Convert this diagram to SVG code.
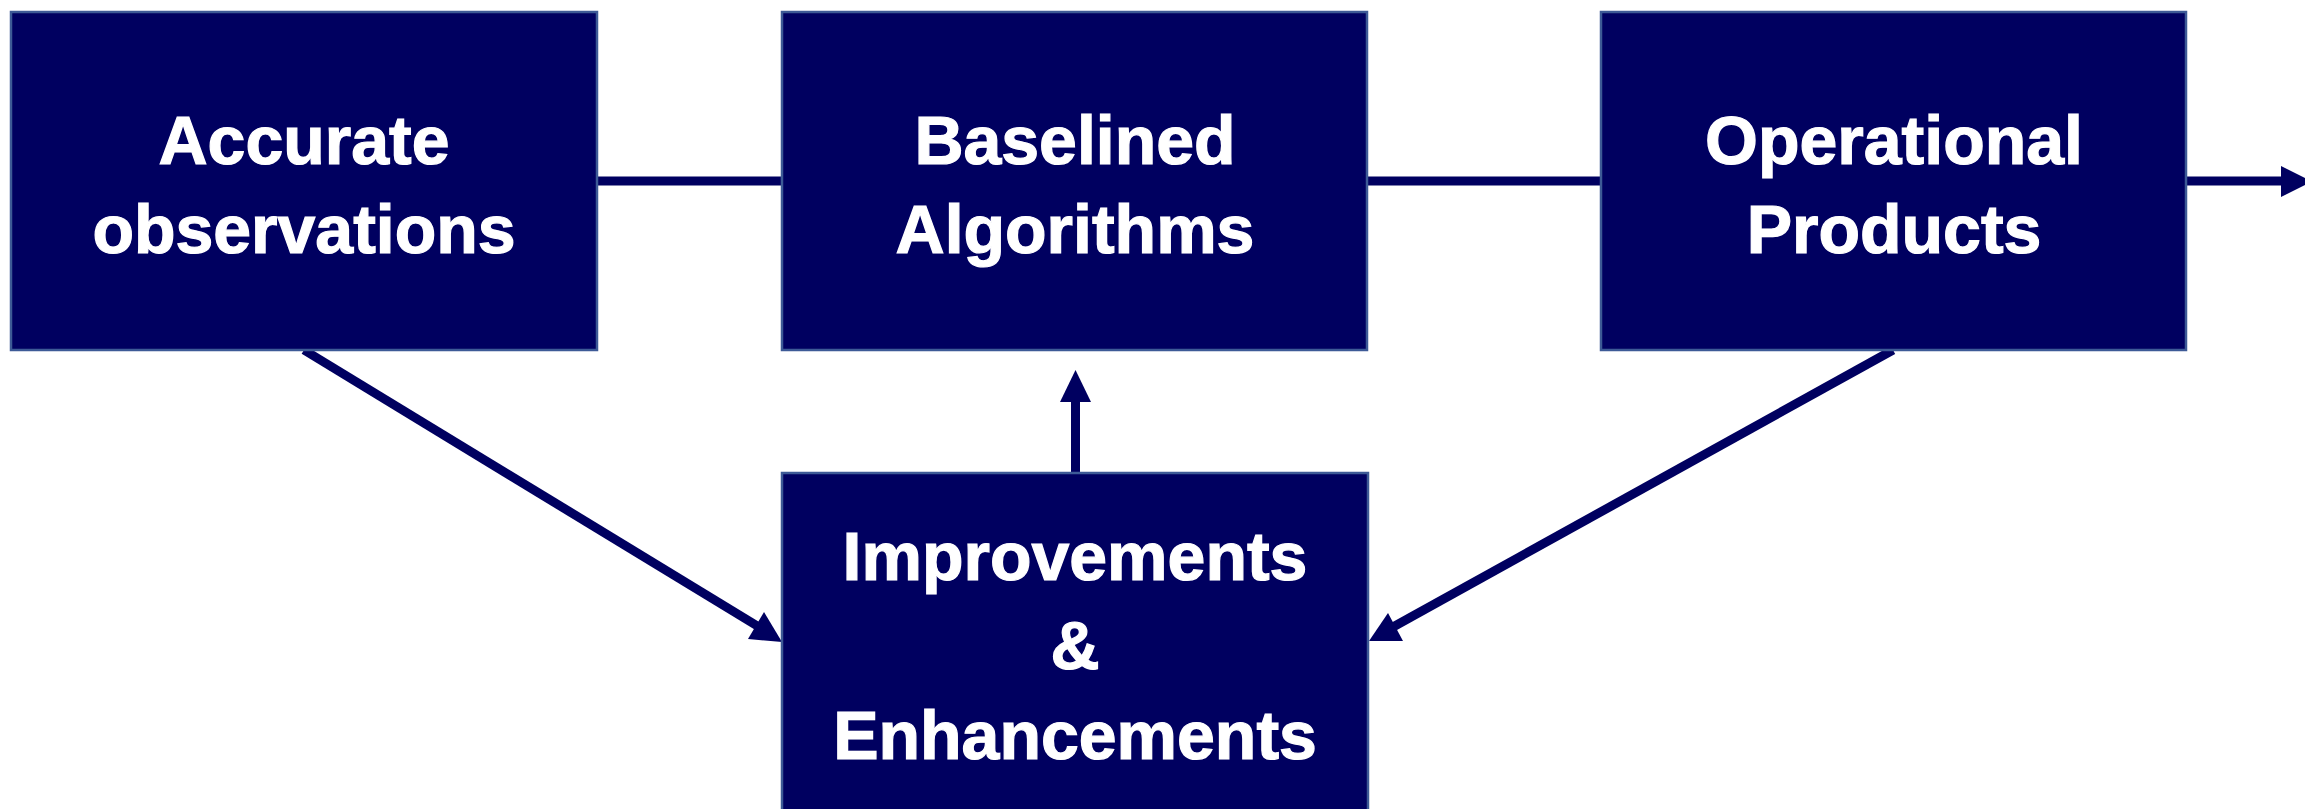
<svg xmlns="http://www.w3.org/2000/svg" width="2305" height="809" viewBox="0 0 2305 809">
<style>
.box{fill:#000060;stroke:#3d5a96;stroke-width:2.5}
.lbl{font-family:"Liberation Sans",Arial,sans-serif;font-weight:bold;font-size:68px;fill:#ffffff;stroke:#ffffff;stroke-width:1.2;text-anchor:middle}
.conn{stroke:#000060;stroke-width:9;fill:none}
.head{fill:#000060;stroke:none}
</style>
<rect width="2305" height="809" fill="#ffffff"/>
<g id="connectors">
<line class="conn" x1="597" y1="181" x2="782" y2="181"/>
<line class="conn" x1="1367" y1="181" x2="1601" y2="181"/>
<line class="conn" x1="2186" y1="181" x2="2284" y2="181"/>
<polygon class="head" points="2281,166 2312,181.5 2281,197"/>
<line class="conn" x1="1075.5" y1="472" x2="1075.5" y2="398"/>
<polygon class="head" points="1075.5,370 1091,402 1060,402"/>
<line class="conn" x1="304" y1="350" x2="759" y2="627"/>
<polygon class="head" points="782,642 764,612 748,639"/>
<line class="conn" x1="1893" y1="350" x2="1393" y2="627"/>
<polygon class="head" points="1369,641 1388,613 1403,641"/>
</g>
<g id="node-accurate">
<rect class="box" x="11" y="12" width="586" height="338"/>
<text class="lbl" x="304" y="164">Accurate</text>
<text class="lbl" x="304" y="253">observations</text>
</g>
<g id="node-baselined">
<rect class="box" x="782" y="12" width="585" height="338"/>
<text class="lbl" x="1075" y="164">Baselined</text>
<text class="lbl" x="1075" y="253">Algorithms</text>
</g>
<g id="node-operational">
<rect class="box" x="1601" y="12" width="585" height="338"/>
<text class="lbl" x="1894" y="164">Operational</text>
<text class="lbl" x="1894" y="253">Products</text>
</g>
<g id="node-improvements">
<rect class="box" x="782" y="473" width="586" height="345"/>
<text class="lbl" x="1075" y="580">Improvements</text>
<text class="lbl" x="1075" y="669">&amp;</text>
<text class="lbl" x="1075" y="759">Enhancements</text>
</g>
</svg>
